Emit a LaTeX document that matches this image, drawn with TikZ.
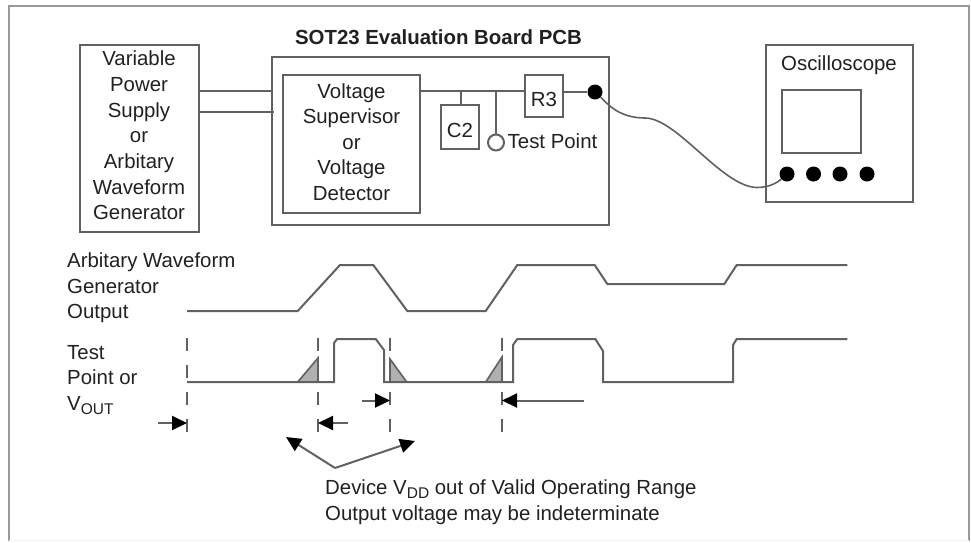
\documentclass[tikz,border=0pt]{standalone}
\usepackage{fontspec}
\setmainfont{Liberation Sans}
\usetikzlibrary{arrows.meta,calc}
\definecolor{ln}{gray}{0.38}
\definecolor{tx}{gray}{0.13}
\newcommand{\subtxt}[1]{\raisebox{-4.5pt}{\fontsize{15.5}{18}\selectfont #1}}
\tikzset{
  txt/.style={text=tx,font=\fontsize{20.4}{25.6}\selectfont,inner sep=0pt},
  box/.style={draw=ln,line width=2pt,fill=white,inner sep=0pt},
  wire/.style={draw=ln,line width=2pt,line join=round},
  trace/.style={draw=ln,line width=2pt,line join=miter},
  guide/.style={draw=ln,line width=2pt,dash pattern=on 13pt off 14pt},
  pointer/.style={draw=ln,line width=2pt,-{Triangle[length=15pt,width=14pt,color=black]}},
  grey/.style={draw=ln,line width=1.6pt,fill=gray!62},
  dot/.style={circle,fill=black,draw=none,minimum size=15pt,inner sep=0pt},
}
\begin{document}
\begin{tikzpicture}[x=1pt,y=-1pt]
\useasboundingbox (0,0) rectangle (971,542);
\fill[white] (0,0) rectangle (971,542);
\draw[draw=gray!80,line width=2pt] (9,540.5) -- (9,6) -- (969,6) -- (969,540.5);
\draw[draw=gray!12,line width=1.5pt] (9,540.5) -- (969,540.5);
% boxes
\node[box,minimum width=119pt,minimum height=187pt,
  label={[txt,align=center,yshift=3pt]center:{Variable\\Power\\Supply\\or\\Arbitary\\Waveform\\Generator}}] (supply) at (139,138.5) {};
\node[box,minimum width=337pt,minimum height=168pt] (board) at (440.5,141) {};
\node[txt,font=\fontsize{20.4}{24}\selectfont\bfseries] (title) at (438.5,37) {SOT23 Evaluation Board PCB};
\node[box,minimum width=137pt,minimum height=138pt,
  label={[txt,align=center,yshift=2pt]center:{Voltage\\Supervisor\\or\\Voltage\\Detector}}] (sup) at (351.5,144) {};
\node[box,minimum width=38pt,minimum height=44pt,
  label={[txt,yshift=-3.5pt]center:C2}] (c2) at (460,127) {};
\node[box,minimum width=38pt,minimum height=42pt,
  label={[txt,yshift=-3.5pt]center:R3}] (r3) at (544,96) {};
\node[box,minimum width=147pt,minimum height=157pt] (osc) at (839.5,123.5) {};
\node[txt] (osclabel) at (839,65.5) {Oscilloscope};
\node[box,minimum width=79pt,minimum height=63pt] (screen) at (821.5,121.5) {};
\node[dot] (p1) at (787,174) {};
\node[dot] (p2) at (813.5,174) {};
\node[dot] (p3) at (840,174) {};
\node[dot] (p4) at (867,174) {};
\node[dot] (out) at (595,92) {};
\node[circle,draw=ln,line width=2pt,fill=white,minimum size=16pt,inner sep=0pt] (tp) at (496,142.5) {};
\node[txt,anchor=west] (tplabel) at (507.5,141) {Test Point};
% wires
\coordinate (b1) at (0,91);
\coordinate (b2) at (0,112);
\coordinate (cs) at (460.5,91);
\coordinate (ts) at (496,91);
\draw[wire] (supply.east |- b1) -- ($(board.west |- b1)+(2,0)$);
\draw[wire] (supply.east |- b2) -- ($(board.west |- b2)+(3,0)$);
\draw[wire] (sup.east |- b1) -- (r3.west |- b1);
\draw[wire] (cs) -- (cs |- c2.north);
\draw[wire] (ts) -- (tp.north);
\draw[wire] (r3.east |- out) -- (out.west);
\draw[wire,line width=1.6pt] (out) .. controls (607,103) and (618,118) .. (645,118)
  .. controls (677,118) and (722,187) .. (757,187.5)
  .. controls (770,187.5) and (778,182) .. (p1);
% waveform 1
\coordinate (w0) at (187,311);
\coordinate (w1) at (847.3,265);
\draw[trace] (w0) -- (297.7,311) -- (340,265) -- (373.3,265) -- (407.3,311) -- (485.7,311)
  -- (517.3,265) -- (594.7,265) -- (607.3,284) -- (724.3,284) -- (736.7,265) -- (w1);
% dashed guides
\foreach \n/\x in {a/187,b/318,c/390,d/502}{
  \coordinate (gt\n) at (\x,338);
  \coordinate (gb\n) at (\x,432);
  \draw[guide] (gt\n) -- (gb\n);
}
% grey wedges
\draw[grey] (297.7,382) -- (318,358) -- (318,382) -- cycle;
\draw[grey] (390,359) -- (390,382) -- (406.7,382) -- cycle;
\draw[grey] (485.7,382) -- (502,357) -- (502,382) -- cycle;
% waveform 2
\coordinate (v0) at (187,382);
\coordinate (v1) at (847.3,339);
\draw[trace] (v0) -- (334,382) -- (334,343) -- (337,339) -- (375.7,339) -- (384,350)
  -- (384,382) -- (513,382) -- (513,345) -- (517.3,339) -- (595.3,339) -- (603,351)
  -- (603,382) -- (733,382) -- (733,345) -- (736.7,339) -- (v1);
% timing arrows
\coordinate (t1) at (158,423);
\coordinate (t2) at (347.7,423);
\coordinate (t3) at (362,400.5);
\coordinate (t4) at (584,400.5);
\coordinate (apex) at (335,468);
\coordinate (ul) at (286,437);
\coordinate (ur) at (415,441);
\draw[pointer] (t1) -- (gta |- t1);
\draw[pointer] (t2) -- (gtb |- t2);
\draw[pointer] (t3) -- (gtc |- t3);
\draw[pointer] (t4) -- (gtd |- t4);
\draw[pointer] (apex) -- (ul);
\draw[pointer] (apex) -- (ur);
% labels
\node[txt,anchor=north west,align=left] (l1) at (67,252.5) {Arbitary Waveform\\Generator\\Output};
\node[txt,anchor=north west,align=left] (l2) at (67,345) {Test\\Point or\\V\subtxt{OUT}};
\node[txt,anchor=north west,align=left] (l3) at (325,479.5) {Device V\subtxt{DD} out of Valid Operating Range\\Output voltage may be indeterminate};
\end{tikzpicture}
\end{document}
